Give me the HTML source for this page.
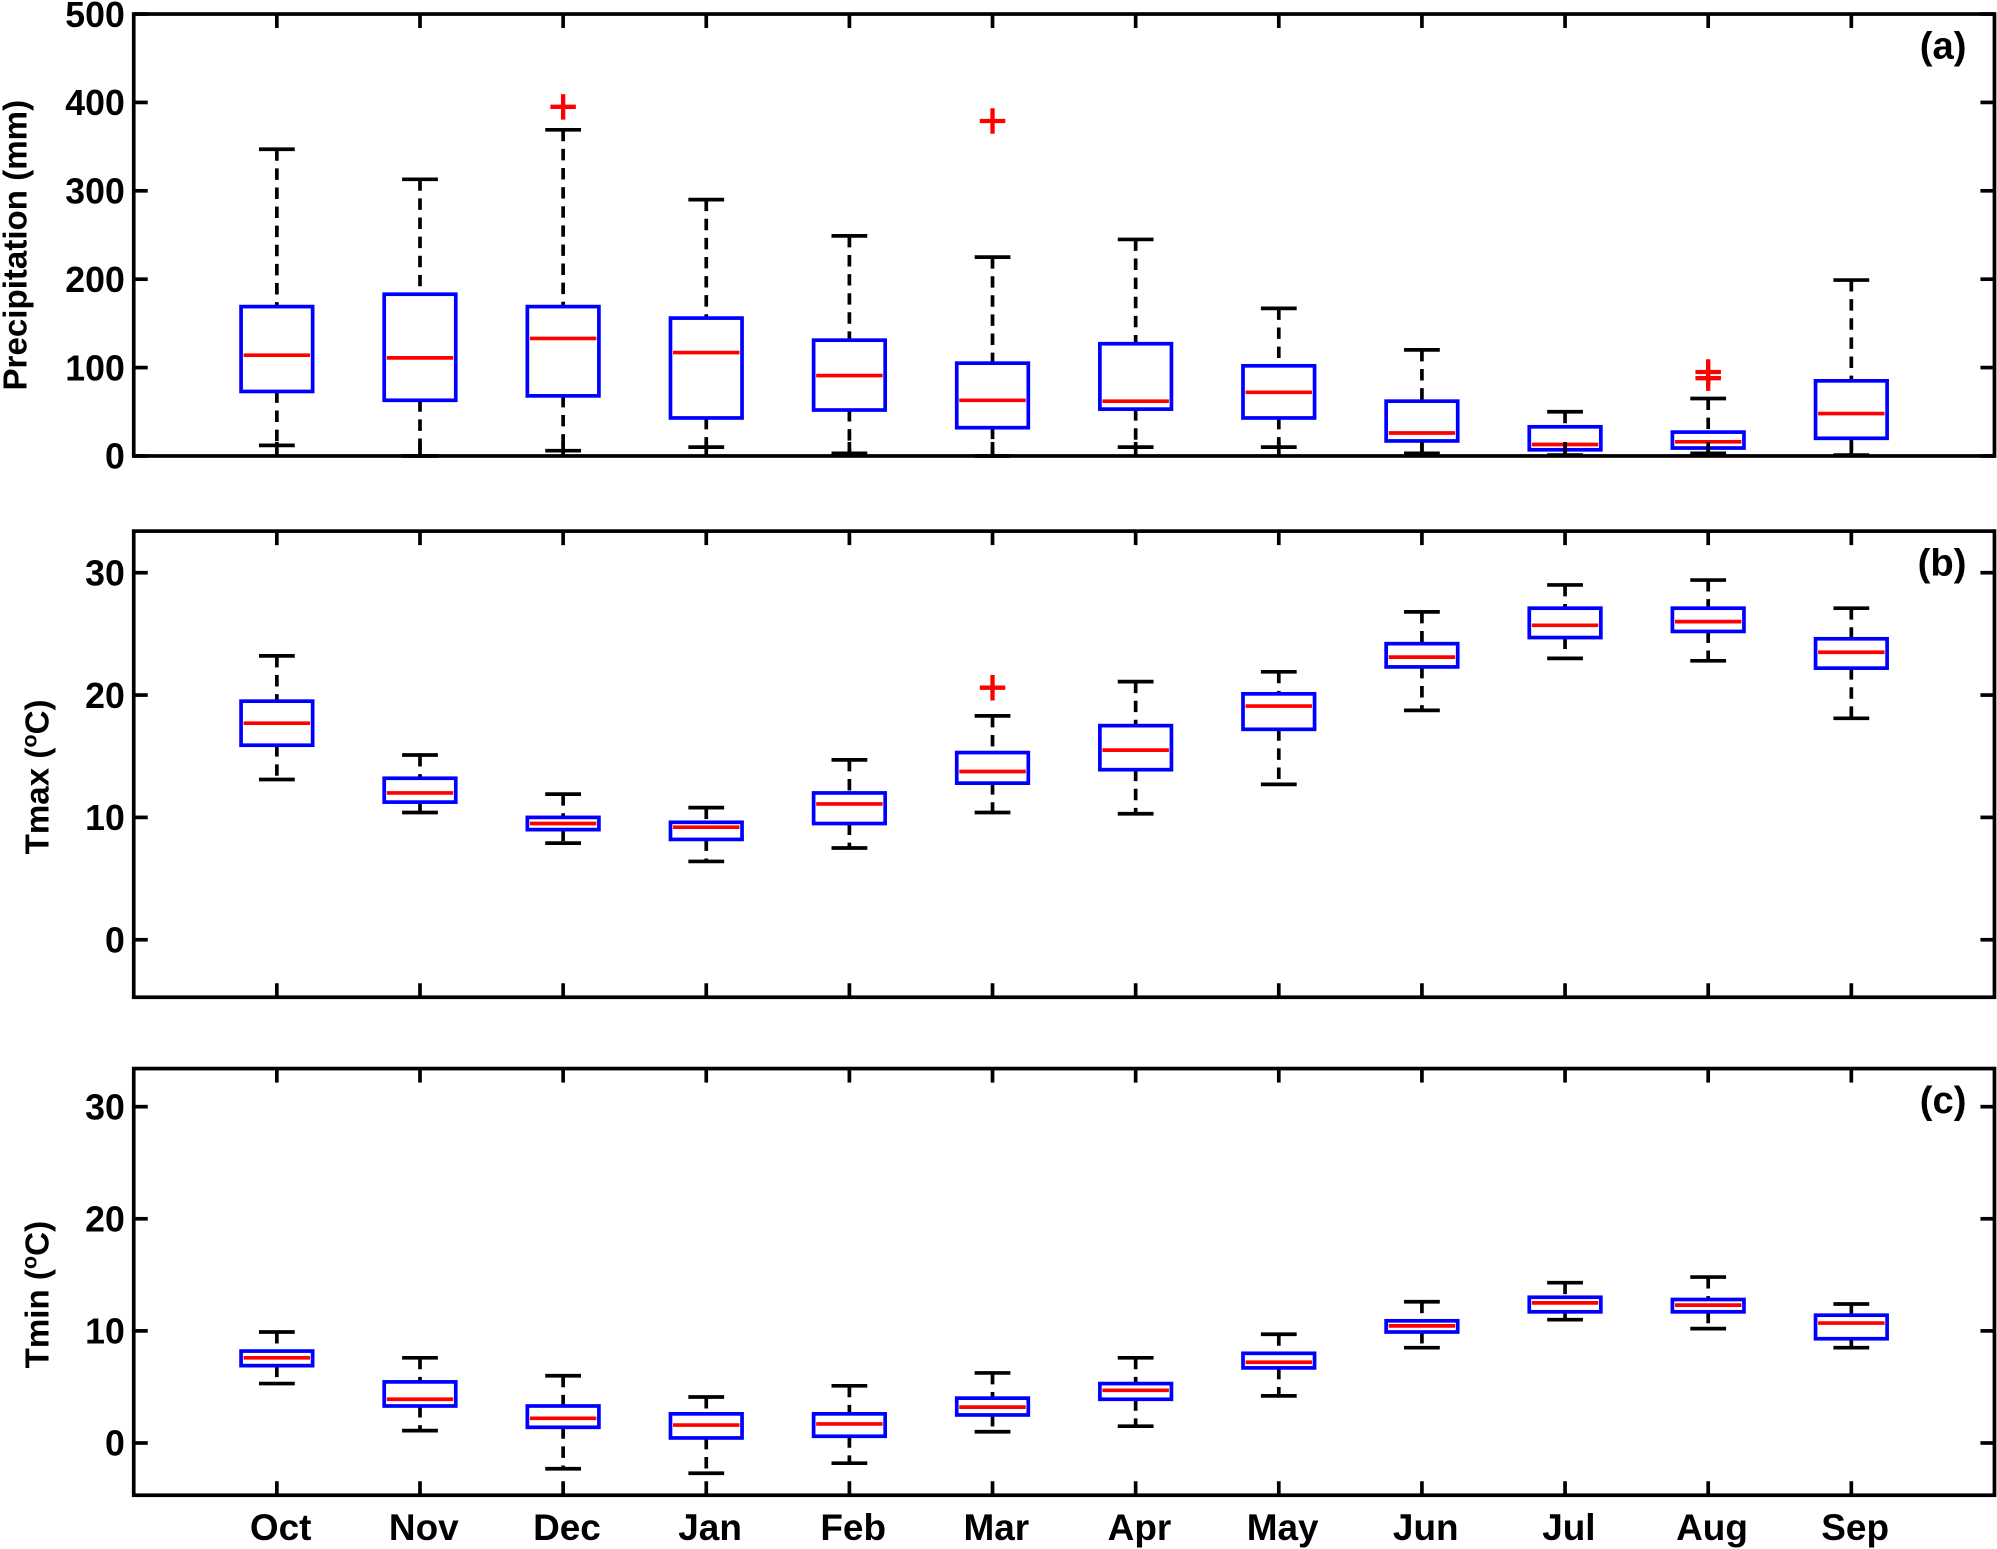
<!DOCTYPE html>
<html><head><meta charset="utf-8"><style>
html,body{margin:0;padding:0;background:#fff}
svg{display:block}
text{font-family:"Liberation Sans",Arial,sans-serif;font-weight:bold;fill:#000}
</style></head><body>
<svg id="fig" width="1997" height="1549" viewBox="0 0 1568 1216.2" xmlns="http://www.w3.org/2000/svg"></svg>
<script>
const months = ["Oct","Nov","Dec","Jan","Feb","Mar","Apr","May","Jun","Jul","Aug","Sep"];
// Precipitation [low, q1, median, q3, high]
const precipLow = [12,0,6,10,3,0,10,10,3,1,3,1];
const precipQ1  = [73,63,68,43,52,32,53,43,17,7,9,20];
const precipMed = [114,111,133,117,91,63,62,72,26,13,16,48];
const precipQ3  = [169,183,169,156,131,105,127,102,62,33,27,85];
const precipHigh= [347,313,369,290,249,225,245,167,120,50,65,199];
const precipOutliers = [[2,395],[5,379],[10,95],[10,88]];
// Tmax
const tmaxLow = [13.1,10.4,7.9,6.4,7.5,10.4,10.3,12.7,18.75,23.0,22.8,18.1];
const tmaxQ1  = [15.9,11.25,9.0,8.2,9.5,12.8,13.9,17.2,22.3,24.7,25.2,22.2];
const tmaxMed = [17.7,12.0,9.5,9.2,11.1,13.75,15.5,19.1,23.1,25.7,26.0,23.5];
const tmaxQ3  = [19.5,13.2,10.0,9.6,12.0,15.3,17.5,20.1,24.2,27.1,27.1,24.6];
const tmaxHigh= [23.2,15.1,11.9,10.8,14.7,18.3,21.1,21.9,26.8,29.0,29.4,27.1];
const tmaxOutliers = [[5,20.6]];
// Tmin
const tminLow = [5.3,1.1,-2.3,-2.7,-1.8,1.0,1.5,4.2,8.5,11.0,10.2,8.5];
const tminQ1  = [6.9,3.3,1.4,0.45,0.6,2.5,3.9,6.7,9.9,11.7,11.7,9.3];
const tminMed = [7.6,3.9,2.2,1.6,1.7,3.2,4.7,7.2,10.45,12.5,12.3,10.7];
const tminQ3  = [8.2,5.45,3.3,2.6,2.6,4.0,5.3,8.0,10.9,13.0,12.8,11.4];
const tminHigh= [9.9,7.6,6.0,4.1,5.1,6.25,7.6,9.7,12.6,14.3,14.8,12.4];
const tminOutliers = [];
const precipTicks = [0,100,200,300,400,500];
const tempTicks = [0,10,20,30];

const NS="http://www.w3.org/2000/svg";
const svg=document.getElementById('fig');
function mk(tag,attrs,parent){const e=document.createElementNS(NS,tag);for(const k in attrs)e.setAttribute(k,attrs[k]);(parent||svg).appendChild(e);return e;}
const X0=105,X1=1566;
const SW=2.9;
function xs(i){return X0+(i+1)/13*(X1-X0);}

function panel(key,top,bottom,ymin,ymax,ticks,lo,q1,md,q3,hi,outs,title,label,showMonths){
  const g=mk('g',{});
  
  
  const ys=v=>bottom-(v-ymin)/(ymax-ymin)*(bottom-top);
  for(let i=0;i<months.length;i++){
    const x=xs(i),hw=0.25/13*(X1-X0),cw=0.125/13*(X1-X0);
    const b=mk('g',{},g);
    
    
    mk('line',{x1:x,x2:x,y1:ys(hi[i]),y2:ys(q3[i]),stroke:'#000','stroke-width':SW,'stroke-dasharray':'9,6'},b);
    mk('line',{x1:x,x2:x,y1:ys(q1[i]),y2:ys(lo[i]),stroke:'#000','stroke-width':SW,'stroke-dasharray':'9,6'},b);
    mk('line',{x1:x-cw,x2:x+cw,y1:ys(hi[i]),y2:ys(hi[i]),stroke:'#000','stroke-width':SW},b);
    mk('line',{x1:x-cw,x2:x+cw,y1:ys(lo[i]),y2:ys(lo[i]),stroke:'#000','stroke-width':SW},b);
    mk('rect',{x:x-hw,y:ys(q3[i]),width:2*hw,height:ys(q1[i])-ys(q3[i]),fill:'#fff',stroke:'#0000ff','stroke-width':SW},b);
    mk('line',{x1:x-hw+2,x2:x+hw-2,y1:ys(md[i]),y2:ys(md[i]),stroke:'#ff0000','stroke-width':SW},b);
  }
  for(const o of outs){
    const x=xs(o[0]),y=ys(o[1]);
    const p=mk('path',{d:`M${x-10},${y}H${x+10}M${x},${y-10}V${y+10}`,stroke:'#ff0000','stroke-width':3.4,fill:'none'},g);
    
    
  }
  const f=mk('rect',{x:X0,y:top,width:X1-X0,height:bottom-top,fill:'none',stroke:'#000','stroke-width':SW},g);
  
  
  for(const t of ticks){
    const y=ys(t);
    mk('line',{x1:X0,x2:X0+11,y1:y,y2:y,stroke:'#000','stroke-width':SW},g);
    mk('line',{x1:X1-11,x2:X1,y1:y,y2:y,stroke:'#000','stroke-width':SW},g);
    const tl=mk('text',{x:X0-7,y:y+10,'text-anchor':'end','font-size':28},g);
    tl.textContent=t;
    
    
  }
  for(let i=0;i<months.length;i++){
    const x=xs(i);
    mk('line',{x1:x,x2:x,y1:top,y2:top+11,stroke:'#000','stroke-width':SW},g);
    mk('line',{x1:x,x2:x,y1:bottom,y2:bottom-11,stroke:'#000','stroke-width':SW},g);
    if(showMonths){
      const ml=mk('text',{x:x+3,y:bottom+35,'text-anchor':'middle','font-size':29},g);
      ml.textContent=months[i];
      
      
    }
  }
  const cy=(top+bottom)/2;
  const yt=mk('text',{x:0,y:0,'text-anchor':'middle','font-size':26,transform:`translate(${key==='precip'?21:38},${key==='precip'?cy+8:cy+10}) rotate(-90)`},g);
  yt.innerHTML=title;
  
  
  const pl=mk('text',{x:X1-22,y:top+35,'text-anchor':'end','font-size':30},g);
  pl.textContent=label;
  
  
}
panel('precip',11,358,0,500,precipTicks,precipLow,precipQ1,precipMed,precipQ3,precipHigh,precipOutliers,'Precipitation (mm)','(a)',false);
panel('tmax',417,783,-4.7,33.4,tempTicks,tmaxLow,tmaxQ1,tmaxMed,tmaxQ3,tmaxHigh,tmaxOutliers,'Tmax (<tspan baseline-shift="super" font-size="17">o</tspan>C)','(b)',false);
panel('tmin',839,1174,-4.66,33.4,tempTicks,tminLow,tminQ1,tminMed,tminQ3,tminHigh,tminOutliers,'Tmin (<tspan baseline-shift="super" font-size="17">o</tspan>C)','(c)',true);
</script>
</body></html>
